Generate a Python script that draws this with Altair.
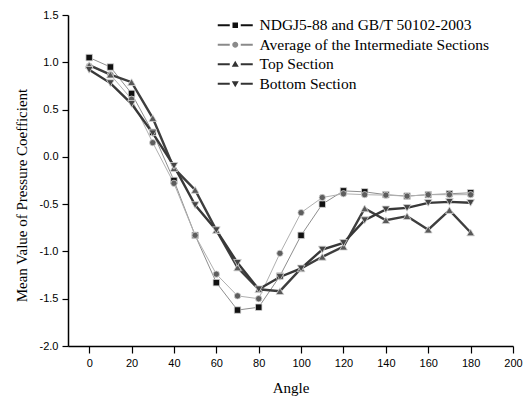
import altair as alt
import pandas as pd

# ---- data ----
angles = [0, 10, 20, 30, 40, 50, 60, 70, 80, 90, 100, 110, 120, 130, 140, 150, 160, 170, 180]
series_names = [
    "NDGJ5-88 and GB/T 50102-2003",
    "Average of the Intermediate Sections",
    "Top Section",
    "Bottom Section",
]
ndgj = [1.05, 0.95, 0.67, 0.26, -0.25, -0.83, -1.33, -1.62, -1.59, -1.26, -0.83, -0.50, -0.36, -0.37, -0.40, -0.415, -0.40, -0.39, -0.38]
avg_mid = [0.96, 0.87, 0.61, 0.15, -0.28, -0.83, -1.24, -1.47, -1.50, -1.02, -0.59, -0.43, -0.39, -0.40, -0.405, -0.415, -0.40, -0.40, -0.40]
top_sec = [0.97, 0.87, 0.79, 0.41, -0.12, -0.35, -0.775, -1.17, -1.40, -1.42, -1.18, -1.057, -0.95, -0.545, -0.67, -0.627, -0.77, -0.563, -0.80]
bottom_sec = [0.92, 0.78, 0.56, 0.25, -0.095, -0.51, -0.775, -1.12, -1.40, -1.27, -1.18, -0.98, -0.91, -0.67, -0.556, -0.54, -0.486, -0.476, -0.486]

# tick positions (major labelled, minor unlabelled)
x_ticks = [0, 10, 20, 30, 40, 50, 60, 70, 80, 90, 100, 110, 120, 130, 140, 150, 160, 170, 180, 190, 200]
y_ticks = [-2.0, -1.75, -1.5, -1.25, -1.0, -0.75, -0.5, -0.25, 0.0, 0.25, 0.5, 0.75, 1.0, 1.25, 1.5]

rows = []
for name, vals in zip(series_names, [ndgj, avg_mid, top_sec, bottom_sec]):
    for a, v in zip(angles, vals):
        rows.append({"series": name, "angle": a, "value": v})
df = pd.DataFrame(rows)

# ---- styles ----
line_colors = ["#8e8e8e", "#b0b0b0", "#3e3e3e", "#383838"]
line_widths = [1, 1, 2.4, 2.4]
marker_fills = ["#111111", "#5e5e5e", "#585858", "#444444"]
marker_shapes = ["square", "circle", "triangle-up", "triangle-down"]
marker_sizes = [42, 40, 60, 60]
legend_colors = ["#111111", "#8a8a8a", "#333333", "#333333"]
dash = "M-3.5,-0.2H-1.1V0.2H-3.5Z M1.1,-0.2H3.5V0.2H1.1Z "
legend_paths = [
    dash + "M-0.55,-0.55H0.55V0.55H-0.55Z",
    dash + "M-0.6,0A0.6,0.6,0,1,1,0.6,0A0.6,0.6,0,1,1,-0.6,0Z",
    dash + "M0,-0.7L0.7,0.5H-0.7Z",
    dash + "M0,0.7L0.7,-0.5H-0.7Z",
]

FONT_SANS = "Liberation Sans"
FONT_SERIF = "Liberation Serif"

xs = alt.Scale(domain=[-10, 200], nice=False, zero=False)
ys = alt.Scale(domain=[-2, 1.5], nice=False, zero=False)

x_major_test = "datum.value % 20 == 0"
y_major_test = "abs(datum.value * 2 - round(datum.value * 2)) < 0.001"
x_label_expr = f"{x_major_test} ? datum.label : ''"
y_label_expr = f"{y_major_test} ? replace(format(datum.value, '.1f'), '\u2212', '-') : ''"

base = alt.Chart(df)

lines = base.mark_line().encode(
    x=alt.X("angle:Q", scale=xs, axis=alt.Axis(
        values=x_ticks, title="Angle", grid=False,
        tickSize={"condition": {"test": x_major_test, "value": 7}, "value": 3.5},
        tickWidth=1.2, domainWidth=1.5, domainColor="black", tickColor="black",
        labelExpr=x_label_expr,
        labelFont=FONT_SANS, labelFontSize=11, labelColor="black", labelPadding=4,
        titleFont=FONT_SERIF, titleFontSize=15, titleFontWeight="normal",
        titleColor="black", titlePadding=12, labelFlush=False)),
    y=alt.Y("value:Q", scale=ys, axis=alt.Axis(
        values=y_ticks, title="Mean Value of Pressure Coefficient", grid=False,
        tickSize={"condition": {"test": y_major_test, "value": 6}, "value": 3},
        tickWidth=1.2, domainWidth=1.5, domainColor="black",
        tickColor="black", labelExpr=y_label_expr,
        labelFont=FONT_SANS, labelFontSize=11, labelColor="black", labelPadding=4,
        titleFont=FONT_SERIF, titleFontSize=15, titleFontWeight="normal",
        titleColor="black", titlePadding=10, titleY=180, labelFlush=False)),
    stroke=alt.Stroke("series:N", scale=alt.Scale(type="ordinal", domain=series_names, range=line_colors), legend=None),
    strokeWidth=alt.StrokeWidth("series:N", scale=alt.Scale(type="ordinal", domain=series_names, range=line_widths), legend=None),
)

points = base.mark_point(filled=True, stroke="#d6d6d6", strokeWidth=0.8, opacity=1).encode(
    x=alt.X("angle:Q", scale=xs),
    y=alt.Y("value:Q", scale=ys),
    fill=alt.Fill("series:N", scale=alt.Scale(type="ordinal", domain=series_names, range=marker_fills), legend=None),
    shape=alt.Shape("series:N", scale=alt.Scale(domain=series_names, range=marker_shapes), legend=None),
    size=alt.Size("series:N", scale=alt.Scale(type="ordinal", domain=series_names, range=marker_sizes), legend=None),
)

legend_layer = base.mark_point(filled=True, opacity=0, strokeWidth=0).encode(
    x=alt.X("angle:Q", scale=xs),
    y=alt.Y("value:Q", scale=ys),
    color=alt.Color("series:N", scale=alt.Scale(type="ordinal", domain=series_names, range=legend_colors),
                    legend=None),
    shape=alt.Shape("series:N", scale=alt.Scale(domain=series_names, range=legend_paths),
                    legend=alt.Legend(title=None, orient="none", legendX=159.5, legendY=2.5)),
)

chart = (
    alt.layer(lines, points, legend_layer)
    .resolve_scale(shape="independent")
    .properties(
        width=445, height=331,
        autosize=alt.AutoSizeParams(type="none"),
        padding={"left": 68, "top": 15, "right": 15, "bottom": 52},
        background="white",
    )
    .configure_view(strokeWidth=0)
    .configure_legend(
        symbolOpacity=1, symbolStrokeWidth=0, symbolSize=100,
        symbolBaseFillColor={"expr": "scale('color', datum.value)"},
        labelFont=FONT_SERIF, labelFontSize=15.5, labelColor="black",
        labelOffset=16.5, rowPadding=2.5, padding=0, labelLimit=400,
    )
)

chart.save("out.html", embed_options={"renderer": "svg", "actions": False})
